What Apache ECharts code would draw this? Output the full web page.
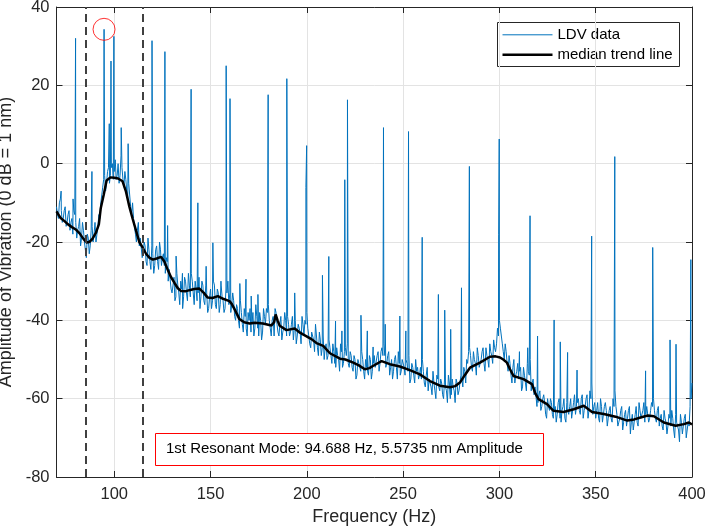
<!DOCTYPE html>
<html><head><meta charset="utf-8">
<script src="https://cdn.jsdelivr.net/npm/echarts@6/dist/echarts.min.js"></script>
<style>html,body{margin:0;padding:0;background:#fff}#c{width:708px;height:532px}</style>
</head><body><div id="c"></div>
<script>
const FONT = '"Liberation Sans", Arial, Helvetica, sans-serif';
const xMin = 70, xMax = 400, yMin = -80, yMax = 40, yStep = 20;

// LDV spectrum floor, one value per Hz starting at 70 Hz (dB re 1 nm)
const ldvStartHz = 70;
const ldvBase = [
 -11,-14,-9,-15,-12,-16,-13,-17,-14,-12,
 -15,-17,-14,-19,-17,-22,-18,-23,-17,-20,
 -15,-18,-13,-10,-6,-3,-5,-1,-3,0,
 -2,-4,0,-3,-1,-6,-4,-9,-8,-13,
 -14,-18,-17,-21,-19,-23,-21,-26,-22,-27,
 -23,-26,-21,-27,-22,-24,-26,-24,-30,-27,
 -33,-29,-34,-31,-36,-32,-34,-30,-35,-31,
 -28,-33,-30,-35,-29,-34,-31,-36,-33,-37,
 -32,-35,-31,-37,-33,-36,-34,-38,-32,-30,
 -33,-36,-35,-40,-37,-42,-38,-43,-39,-44,
 -40,-43,-38,-42,-39,-44,-40,-43,-39,-37,
 -36,-42,-40,-44,-38,-43,-41,-45,-42,-40,
 -39,-44,-41,-45,-40,-44,-42,-46,-41,-40,
 -38,-44,-47,-43,-48,-44,-49,-45,-47,-50,
 -46,-49,-47,-51,-48,-52,-49,-53,-48,-51,
 -47,-46,-52,-49,-53,-50,-54,-51,-53,-50,
 -55,-52,-54,-50,-53,-49,-52,-48,-51,-47,
 -46,-52,-49,-54,-50,-53,-49,-55,-51,-53,
 -50,-54,-51,-49,-55,-52,-56,-53,-55,-52,
 -50,-56,-54,-58,-55,-59,-56,-60,-55,-58,
 -56,-60,-57,-61,-56,-59,-57,-61,-56,-58,
 -54,-57,-53,-50,-48,-49,-53,-50,-54,-49,
 -52,-48,-51,-47,-50,-46,-49,-45,-48,-42,
 -40,-44,-48,-46,-51,-49,-54,-52,-56,-53,
 -55,-52,-57,-54,-58,-53,-50,-56,-59,-57,
 -61,-58,-62,-59,-64,-60,-63,-61,-65,-62,
 -64,-60,-66,-62,-65,-61,-64,-60,-63,-59,
 -62,-60,-64,-59,-63,-60,-65,-58,-56,-62,
 -65,-61,-66,-62,-64,-61,-67,-63,-65,-60,
 -58,-64,-66,-63,-68,-64,-67,-63,-69,-64,
 -66,-62,-67,-63,-65,-61,-64,-62,-65,-61,
 -60,-65,-63,-67,-64,-68,-65,-69,-64,-67,
 -65,-70,-66,-68,-64,-69,-65,-70,-66,-62,
 -56
];
// in-between readings, one per Hz starting at 70.5 Hz
const ldvMidStartHz = 70.5;
const ldvMid = [
 -13,-10,-12,-14,-11,-15,-12,-15,-18,-13,
 -19,-16,-21,-15,-20,-24,-19,-21,-16,-18,
 -20,-16,-14,-8,-4,-7,-2,-5,-1,-4,
 1,-3,-5,2,-4,-2,-7,-5,-11,-10,
 -16,-20,-15,-19,-24,-20,-25,-19,-25,-21,
 -28,-22,-25,-20,-26,-23,-28,-25,-27,-32,
 -31,-35,-28,-33,-30,-37,-29,-33,-28,-34,
 -30,-36,-32,-33,-37,-30,-35,-31,-38,-34,
 -37,-30,-36,-32,-38,-31,-35,-37,-33,-36,
 -38,-33,-39,-36,-40,-35,-41,-37,-42,-38,
 -37,-41,-44,-36,-42,-38,-45,-37,-41,-38,
 -40,-44,-39,-37,-41,-44,-39,-43,-38,-44,
 -41,-43,-39,-42,-46,-41,-43,-39,-44,-41,
 -42,-46,-43,-45,-41,-47,-43,-49,-44,-47,
 -50,-45,-49,-46,-51,-47,-50,-46,-52,-48,
 -49,-51,-48,-52,-49,-55,-50,-52,-48,-53,
 -50,-53,-49,-55,-51,-52,-49,-53,-48,-49,
 -49,-51,-48,-52,-55,-50,-52,-48,-54,-50,
 -52,-50,-53,-56,-51,-54,-50,-52,-54,-55,
 -53,-57,-52,-55,-57,-53,-58,-54,-57,-55,
 -59,-55,-58,-54,-60,-55,-58,-55,-59,-56,
 -55,-52,-56,-51,-47,-52,-48,-51,-47,-52,
 -50,-47,-53,-49,-52,-48,-51,-47,-46,-44,
 -42,-46,-50,-48,-53,-51,-56,-50,-54,-51,
 -53,-58,-52,-56,-51,-54,-58,-55,-57,-62,
 -59,-63,-60,-61,-65,-62,-60,-64,-63,-66,
 -61,-65,-63,-60,-66,-63,-62,-65,-61,-64,
 -61,-63,-60,-65,-62,-59,-63,-60,-64,-61,
 -63,-65,-60,-66,-62,-63,-65,-62,-66,-62,
 -62,-67,-65,-62,-66,-63,-65,-62,-66,-68,
 -64,-66,-61,-65,-63,-66,-62,-66,-63,-62,
 -63,-66,-62,-65,-67,-63,-66,-67,-65,-63,
 -68,-64,-67,-71,-66,-67,-64,-68,-67,-60
];

// narrow spectral lines (Hz, dB)
const spikeFreq = [72.4,78.6,79.9,88.4,94.7,97.4,98.3,99.8,103.6,107.2,119.6,126.3,127.7,132.1,135.4,139.9,143.4,147.7,151.2,155.4,158.1,160.1,165.2,168.4,171.1,174.6,179.9,189.6,193.7,199.5,199.9,208.1,211.4,214.9,218.2,219.7,221.1,228.1,231.4,234.4,239.8,240.7,248.3,251.4,252.8,259.9,268.3,271.6,274.7,280.3,284.4,299.6,299.9,310.4,314.7,315.9,319.8,328.4,331.6,335.4,340.3,347.9,359.9,375.9,379.6,388.6,391.7,399.4];
const spikeAmp  = [-7,-9,32,-2,34.3,10.2,26.2,32.5,9.2,5.1,31.4,28.6,-15.8,-23.6,-28,19,-10,-26.2,-20.2,-30,25,16.6,-30.6,-29.5,-33.8,-33.4,17.6,21.7,-33,-6.1,4.6,-28.5,-23.7,-40.2,-42.7,-4.1,16.3,-38.7,-42.7,-46.8,9.2,-41,-38.9,-42.7,8.2,-18.8,-33.4,-37.4,-42.3,-31.7,-0.7,-18,6.3,-48,-47,-13.3,-44,-39.9,-45.5,-48.2,-52.7,-18.5,1.8,-52.9,-21.4,-45,-46.1,-24.5];

// median trend line (Hz, dB)
const trendFreq = [70,72,74,76,78,80,82,84,85.6,87,88.5,90.5,92,93,94.5,96,98,100,102,104.3,106,107.8,109.5,111.6,113,114.7,116.5,118.2,120,122,124.3,126,127.7,129.5,131.2,133,134.7,137,139,141.5,144.2,146.5,148.5,151,153.8,156.5,159.8,161,162.5,165,167.5,170.3,173,177.2,181.6,183,183.8,184.8,185.9,189.4,193.7,196,198,202.4,205,208.5,212,217.2,220,224.1,227,230.1,232.5,234.5,238.8,243.1,248.3,253.5,258.7,263.9,269.1,274.3,277,279.5,282,284.7,289.9,295.1,298,300.3,302,303.9,305.5,307.3,312.5,316.9,318.5,320.3,324.7,328.1,333.3,338.6,343.8,348.1,354.2,360.3,366.4,370,373.3,377,380.2,385.4,391.5,395.8,398.4,400];
const trendAmp  = [-12.2,-13.8,-14.6,-15.5,-16.2,-16.8,-17.8,-19.2,-20.1,-20,-19.3,-17.6,-15.5,-11.3,-8,-4.3,-3.5,-3.6,-3.8,-4.5,-7,-10.9,-14,-17.6,-20,-21.4,-23,-24,-24.5,-24.2,-23.8,-25,-27,-29,-30.4,-31.8,-32.5,-32.6,-32.3,-32,-31.9,-33,-34.2,-34.3,-33.8,-34.5,-35.1,-35.8,-37.2,-39.7,-40.5,-40.8,-40.6,-40.8,-41.3,-40.5,-38.5,-40,-41.4,-42.5,-42.1,-43,-43.6,-44.8,-45.8,-46.5,-48.4,-49.8,-50,-50.8,-51.5,-52.5,-52.2,-51.6,-50.4,-51.2,-51.8,-52.7,-53.8,-55.5,-56.7,-57.1,-56.8,-55.9,-54,-52.1,-50.8,-49.3,-49.2,-49.5,-50,-50.8,-52.5,-54.2,-55,-56.3,-58.5,-60.1,-61.4,-63.1,-63.4,-62.7,-61.8,-63.4,-63.9,-64.6,-65.6,-65.3,-64.8,-64.3,-64.5,-66.1,-66.9,-66.5,-66.1,-66.6];

const bandEdges = [85, 115];
const peakFreq = [94.688];
const peakAmp = [34.3];
const annotationText = '1st Resonant Mode: 94.688 Hz, 5.5735 nm Amplitude';
const seriesNames = ['LDV data', 'median trend line'];
const seriesColors = ['#0072BD', '#000000'];
const seriesWidths = [1, 2.5];

const ldvData = ldvBase.map((v, i) => [ldvStartHz + i, v])
  .concat(ldvMid.map((v, i) => [ldvMidStartHz + i, v]))
  .concat(spikeFreq.map((f, i) => [f, spikeAmp[i]]))
  .sort((a, b) => a[0] - b[0]);
const trendData = trendFreq.map((f, i) => [f, trendAmp[i]]);
const peakData = peakFreq.map((f, i) => [f, peakAmp[i]]);

const AX = '#262626', GRID = '#e3e3e3';
const tickTxt = { fontFamily: FONT, fontSize: 16.5, color: AX };
const nameTxt = { fontFamily: FONT, fontSize: 18, color: AX };
const tickCommon = { show: true, inside: true, length: 6, lineStyle: { color: AX } };
const lineCommon = { show: true, onZero: false, lineStyle: { color: AX, width: 1 } };

// legend drawn as graphic box (MATLAB style)
const LG = { left: 497, top: 22, w: 182, h: 44, rowY: [12.3, 32.3], lineX: [5, 55], textX: 60 };
const legendGraphic = {
  type: 'group', left: LG.left, top: LG.top, z: 20,
  children: [{
    type: 'rect', shape: { x: 0, y: 0, width: LG.w, height: LG.h },
    style: { fill: '#fff', stroke: AX, lineWidth: 1 }
  }].concat(seriesNames.flatMap((n, i) => [{
    type: 'line', shape: { x1: LG.lineX[0], y1: LG.rowY[i], x2: LG.lineX[1], y2: LG.rowY[i] },
    style: { stroke: seriesColors[i], lineWidth: seriesWidths[i] }
  }, {
    type: 'text', x: LG.textX, y: LG.rowY[i],
    style: { text: n, font: '15px ' + FONT, fill: '#000', verticalAlign: 'middle', textAlign: 'left' }
  }]))
};

const chart = echarts.init(document.getElementById('c'), null, { renderer: 'canvas' });
chart.setOption({
  animation: false,
  backgroundColor: '#fff',
  textStyle: { fontFamily: FONT },
  grid: { left: 56.5, right: 16, top: 7, bottom: 55, containLabel: false, outerBoundsMode: 'none' },
  xAxis: [{
    type: 'value', min: xMin, max: xMax, position: 'bottom',
    name: 'Frequency (Hz)', nameLocation: 'middle', nameGap: 21,
    nameTextStyle: nameTxt,
    axisLine: lineCommon, axisTick: tickCommon,
    axisLabel: Object.assign({ margin: 9, showMinLabel: false }, tickTxt),
    splitLine: { show: true, lineStyle: { color: GRID, width: 1 } }
  }, {
    type: 'value', min: xMin, max: xMax, position: 'top',
    axisLine: lineCommon, axisTick: tickCommon,
    axisLabel: { show: false }, splitLine: { show: false }
  }],
  yAxis: [{
    type: 'value', min: yMin, max: yMax, interval: yStep, position: 'left',
    name: 'Amplitude of Vibration (0 dB = 1 nm)', nameLocation: 'middle', nameGap: 37,
    nameTextStyle: nameTxt,
    axisLine: lineCommon, axisTick: tickCommon,
    axisLabel: Object.assign({ margin: 7 }, tickTxt),
    splitLine: { show: true, lineStyle: { color: GRID, width: 1 } }
  }, {
    type: 'value', min: yMin, max: yMax, interval: yStep, position: 'right',
    axisLine: lineCommon, axisTick: tickCommon,
    axisLabel: { show: false }, splitLine: { show: false }
  }],
  series: [{
    name: seriesNames[0], type: 'line', data: ldvData,
    showSymbol: false, symbol: 'none', sampling: null,
    color: seriesColors[0], lineStyle: { color: seriesColors[0], width: seriesWidths[0] }, z: 2,
    markLine: {
      silent: true, symbol: 'none', label: { show: false },
      lineStyle: { color: '#404040', width: 2, type: [8, 5] },
      data: bandEdges.map(f => ({ xAxis: f }))
    }
  }, {
    name: seriesNames[1], type: 'line', data: trendData,
    showSymbol: false, symbol: 'none',
    color: seriesColors[1], lineStyle: { color: seriesColors[1], width: seriesWidths[1] }, z: 3
  }, {
    name: 'peak', type: 'scatter', data: peakData,
    symbol: 'circle', symbolSize: 22, z: 5,
    itemStyle: { color: 'rgba(0,0,0,0)', borderColor: '#ff0000', borderWidth: 1 }
  }],
  graphic: [legendGraphic, {
    type: 'rect', left: 155, top: 433, z: 10,
    shape: { width: 388, height: 32 },
    style: { fill: '#fff', stroke: '#ff0000', lineWidth: 1 }
  }, {
    type: 'text', left: 166, top: 441, z: 11,
    style: { text: annotationText, font: '15px ' + FONT, fill: '#000' }
  }]
});
</script></body></html>
